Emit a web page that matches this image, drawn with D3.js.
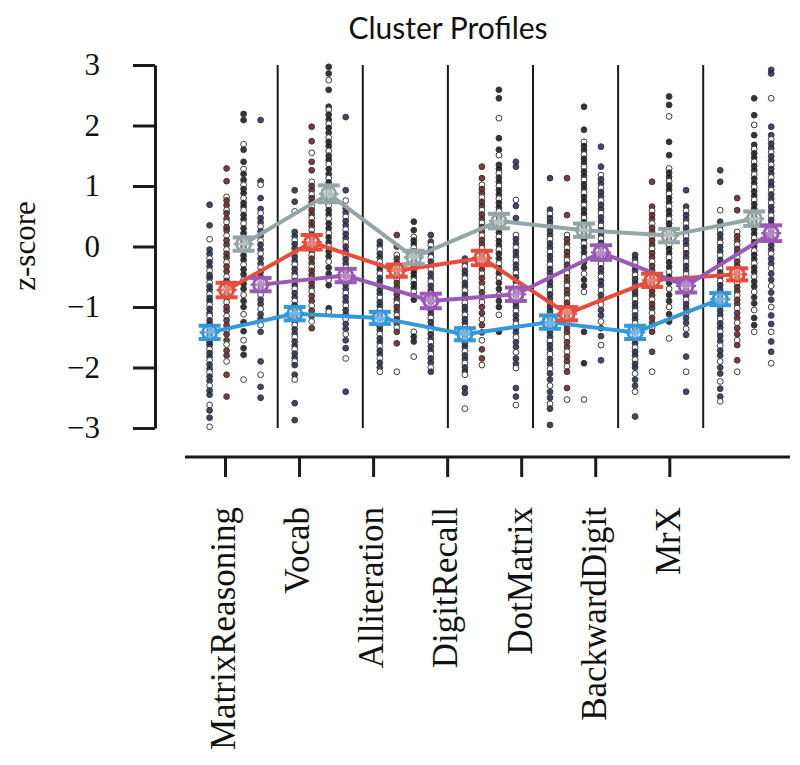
<!DOCTYPE html>
<html><head><meta charset="utf-8">
<script src="https://cdn.jsdelivr.net/npm/d3@7"></script>
<style>body{margin:0;background:#fff}</style>
</head><body><div id="chart"></div>
<script>
const categories = ["MatrixReasoning","Vocab","Alliteration","DigitRecall","DotMatrix","BackwardDigit","MrX"];
const clusters = ["blue","red","grey","purple"];
const yTicks = [-3,-2,-1,0,1,2,3];

const meanBlue   = [-1.42,-1.11,-1.18,-1.45,-1.25,-1.42,-0.87];
const meanRed    = [-0.72, 0.07,-0.40,-0.19,-1.11,-0.56,-0.46];
const meanGrey   = [ 0.04, 0.87,-0.18, 0.42, 0.27, 0.18, 0.46];
const meanPurple = [-0.63,-0.48,-0.90,-0.79,-0.10,-0.65, 0.22];

const semBlue   = [0.11,0.11,0.10,0.10,0.11,0.11,0.10];
const semRed    = [0.12,0.12,0.10,0.12,0.11,0.11,0.10];
const semGrey   = [0.11,0.14,0.11,0.12,0.11,0.11,0.12];
const semPurple = [0.11,0.11,0.12,0.11,0.12,0.11,0.13];

const dotsBlue = [
 [0.69,0.35,0.12,-0.05,-0.12,-0.2,-0.26,-0.33,-0.4,-0.47,-0.52,-0.6,-0.66,-0.72,-0.79,-0.85,-0.9,-0.97,-1.03,-1.1,-1.15,-1.22,-1.28,-1.33,-1.4,-1.46,-1.52,-1.58,-1.63,-1.7,-1.76,-1.82,-1.88,-1.95,-2.02,-2.08,-2.15,-2.22,-2.3,-2.38,-2.45,-2.62,-2.71,-2.83,-2.98],
 [0.93,0.74,0.58,0.24,0.17,0.1,0.04,-0.03,-0.1,-0.17,-0.24,-0.3,-0.37,-0.44,-0.5,-0.57,-0.64,-0.7,-0.77,-0.84,-0.9,-0.97,-1.04,-1.1,-1.17,-1.24,-1.3,-1.37,-1.44,-1.5,-1.57,-1.64,-1.7,-1.77,-1.84,-1.9,-1.96,-2.12,-2.2,-2.59,-2.87],
 [0.08,0.02,-0.05,-0.12,-0.18,-0.25,-0.32,-0.38,-0.45,-0.52,-0.58,-0.65,-0.72,-0.78,-0.85,-0.92,-0.98,-1.05,-1.12,-1.18,-1.25,-1.32,-1.38,-1.45,-1.52,-1.58,-1.65,-1.72,-1.78,-1.85,-1.92,-2.0,-2.07],
 [-0.2,-0.27,-0.33,-0.4,-0.46,-0.53,-0.6,-0.66,-0.73,-0.8,-0.86,-0.93,-1.0,-1.06,-1.13,-1.2,-1.26,-1.33,-1.4,-1.46,-1.53,-1.6,-1.66,-1.73,-1.8,-1.86,-1.93,-2.0,-2.06,-2.12,-2.34,-2.42,-2.68],
 [1.13,0.61,0.54,0.47,0.4,0.33,0.26,0.19,0.12,0.05,-0.02,-0.09,-0.16,-0.23,-0.3,-0.37,-0.44,-0.51,-0.58,-0.65,-0.72,-0.79,-0.86,-0.93,-1.0,-1.07,-1.14,-1.21,-1.28,-1.35,-1.42,-1.49,-1.56,-1.63,-1.7,-1.78,-1.86,-1.94,-2.02,-2.1,-2.2,-2.3,-2.4,-2.5,-2.6,-2.68,-2.95],
 [-0.14,-0.2,-0.27,-0.34,-0.4,-0.47,-0.54,-0.6,-0.67,-0.74,-0.8,-0.87,-0.94,-1.0,-1.07,-1.14,-1.2,-1.27,-1.34,-1.4,-1.47,-1.54,-1.6,-1.67,-1.74,-1.8,-1.87,-1.94,-2.0,-2.1,-2.2,-2.3,-2.4,-2.81],
 [1.26,1.07,0.6,0.41,0.34,0.27,0.2,0.13,0.06,-0.01,-0.08,-0.15,-0.22,-0.29,-0.36,-0.43,-0.5,-0.57,-0.64,-0.71,-0.78,-0.85,-0.92,-0.99,-1.06,-1.13,-1.2,-1.27,-1.34,-1.41,-1.48,-1.56,-1.64,-1.72,-1.8,-1.9,-2.0,-2.1,-2.23,-2.35,-2.48,-2.56]
];
const dotsRed = [
 [1.29,1.08,0.82,0.76,0.68,0.6,0.55,0.46,0.4,0.32,0.27,0.18,0.1,0.03,-0.05,-0.12,-0.18,-0.26,-0.33,-0.41,-0.5,-0.57,-0.63,-0.7,-0.78,-0.85,-0.92,-1.0,-1.06,-1.15,-1.22,-1.3,-1.38,-1.45,-1.55,-1.62,-1.72,-1.8,-1.9,-2.12,-2.48],
 [1.98,1.74,1.55,1.4,1.26,1.07,1.0,0.93,0.86,0.8,0.73,0.66,0.6,0.53,0.47,0.4,0.34,0.27,0.2,0.14,0.07,0.0,-0.07,-0.14,-0.2,-0.27,-0.34,-0.4,-0.47,-0.54,-0.6,-0.67,-0.74,-0.82,-0.9,-0.98,-1.06,-1.15,-1.24,-1.35],
 [0.19,0.0,-0.14,-0.2,-0.27,-0.34,-0.4,-0.47,-0.54,-0.6,-0.67,-0.74,-0.8,-0.87,-0.94,-1.0,-1.07,-1.14,-1.2,-1.27,-1.34,-1.41,-1.6,-2.07],
 [1.32,1.13,1.02,0.95,0.88,0.81,0.74,0.67,0.6,0.53,0.46,0.39,0.32,0.25,0.18,0.11,0.04,-0.03,-0.1,-0.17,-0.24,-0.31,-0.38,-0.45,-0.52,-0.6,-0.68,-0.76,-0.84,-0.92,-1.0,-1.1,-1.2,-1.3,-1.42,-1.55,-1.7,-1.85,-1.96],
 [1.13,0.52,0.19,0.12,0.05,-0.02,-0.09,-0.16,-0.23,-0.3,-0.37,-0.44,-0.51,-0.58,-0.65,-0.72,-0.79,-0.86,-0.93,-1.0,-1.07,-1.14,-1.21,-1.28,-1.35,-1.42,-1.5,-1.58,-1.66,-1.74,-1.82,-1.9,-1.98,-2.07,-2.34,-2.53],
 [1.07,0.66,0.59,0.52,0.45,0.38,0.31,0.24,0.17,0.1,0.03,-0.04,-0.11,-0.18,-0.25,-0.32,-0.39,-0.46,-0.53,-0.6,-0.67,-0.74,-0.81,-0.88,-0.95,-1.02,-1.1,-1.18,-1.26,-1.34,-1.41,-1.74,-2.07],
 [0.8,0.6,0.24,0.17,0.1,0.03,-0.04,-0.11,-0.18,-0.25,-0.32,-0.39,-0.46,-0.53,-0.6,-0.67,-0.74,-0.81,-0.88,-0.95,-1.02,-1.1,-1.18,-1.26,-1.35,-1.45,-1.55,-1.63,-1.88,-2.07]
];
const dotsGrey = [
 [2.19,2.09,1.69,1.6,1.4,1.28,1.2,1.1,1.02,0.95,0.88,0.8,0.72,0.66,0.6,0.52,0.45,0.38,0.3,0.22,0.15,0.08,0.0,-0.08,-0.15,-0.22,-0.3,-0.38,-0.46,-0.55,-0.62,-0.7,-0.8,-0.9,-1.0,-1.12,-1.25,-1.4,-1.55,-1.68,-1.79,-2.2],
 [2.97,2.86,2.75,2.59,2.31,2.26,2.18,2.1,2.03,1.96,1.88,1.8,1.73,1.66,1.58,1.5,1.43,1.36,1.28,1.2,1.13,1.06,0.98,0.9,0.83,0.76,0.68,0.6,0.53,0.46,0.38,0.3,0.22,0.15,0.07,0.0,-0.08,-0.16,-0.25,-0.35,-0.45,-0.55,-0.64,-1.02,-1.08],
 [0.41,0.27,0.16,0.1,0.04,-0.02,-0.08,-0.14,-0.2,-0.26,-0.32,-0.38,-0.44,-0.5,-0.56,-0.62,-0.68,-0.75,-0.82,-0.88,-1.41,-1.49,-1.57,-1.82],
 [2.59,2.45,2.12,1.79,1.6,1.51,1.35,1.28,1.21,1.14,1.07,1.0,0.93,0.86,0.79,0.72,0.65,0.58,0.51,0.44,0.37,0.3,0.23,0.16,0.09,0.02,-0.05,-0.12,-0.2,-0.28,-0.36,-0.44,-0.52,-0.6,-0.7,-0.8,-0.9,-1.0,-1.13,-1.41],
 [2.31,1.93,1.73,1.66,1.59,1.52,1.45,1.38,1.31,1.24,1.17,1.1,1.03,0.96,0.89,0.82,0.75,0.68,0.61,0.54,0.47,0.4,0.33,0.26,0.19,0.12,0.05,-0.02,-0.1,-0.18,-0.26,-0.35,-0.45,-0.55,-0.65,-0.75,-1.41,-1.93,-2.53],
 [2.48,2.34,2.15,1.73,1.51,1.29,1.22,1.15,1.08,1.01,0.94,0.87,0.8,0.73,0.66,0.59,0.52,0.45,0.38,0.31,0.24,0.17,0.1,0.03,-0.04,-0.11,-0.18,-0.26,-0.34,-0.42,-0.5,-0.6,-0.7,-0.8,-0.9,-1.0,-1.12,-1.24,-1.52],
 [2.45,2.17,2.01,1.84,1.68,1.61,1.54,1.47,1.4,1.33,1.26,1.19,1.12,1.05,0.98,0.91,0.84,0.77,0.7,0.63,0.56,0.49,0.42,0.35,0.28,0.21,0.14,0.07,0.0,-0.07,-0.14,-0.21,-0.28,-0.35,-0.42,-0.5,-0.58,-0.66,-0.75,-0.84,-0.94,-1.05,-1.18,-1.3,-1.41]
];
const dotsPurple = [
 [2.09,1.08,1.02,0.8,0.62,0.55,0.47,0.4,0.33,0.25,0.18,0.1,0.03,-0.05,-0.12,-0.2,-0.28,-0.35,-0.42,-0.5,-0.57,-0.65,-0.72,-0.8,-0.88,-0.95,-1.03,-1.12,-1.2,-1.3,-1.41,-1.9,-2.12,-2.32,-2.5],
 [2.14,0.93,0.76,0.63,0.56,0.49,0.42,0.35,0.28,0.21,0.14,0.07,0.0,-0.07,-0.14,-0.21,-0.28,-0.35,-0.42,-0.49,-0.56,-0.63,-0.7,-0.77,-0.84,-0.91,-0.98,-1.05,-1.12,-1.2,-1.28,-1.36,-1.45,-1.55,-1.68,-1.85,-2.4],
 [0.19,0.08,0.02,-0.05,-0.12,-0.18,-0.25,-0.32,-0.38,-0.45,-0.52,-0.58,-0.65,-0.72,-0.78,-0.85,-0.92,-0.98,-1.05,-1.12,-1.18,-1.25,-1.32,-1.38,-1.45,-1.52,-1.58,-1.65,-1.72,-1.78,-1.85,-1.92,-2.0,-2.07],
 [1.4,1.32,0.77,0.67,0.47,0.19,0.12,0.05,-0.02,-0.09,-0.16,-0.23,-0.3,-0.37,-0.44,-0.51,-0.58,-0.65,-0.72,-0.79,-0.86,-0.93,-1.0,-1.07,-1.14,-1.21,-1.28,-1.35,-1.42,-1.5,-1.58,-1.66,-1.75,-1.85,-1.94,-2.01,-2.34,-2.48,-2.62],
 [1.65,1.32,1.18,1.11,1.04,0.97,0.9,0.83,0.76,0.69,0.62,0.55,0.48,0.41,0.34,0.27,0.2,0.13,0.06,-0.01,-0.08,-0.15,-0.22,-0.29,-0.36,-0.43,-0.5,-0.57,-0.64,-0.72,-0.8,-0.88,-0.96,-1.05,-1.14,-1.24,-1.35,-1.48,-1.63,-1.88],
 [0.93,0.66,0.59,0.52,0.45,0.38,0.31,0.24,0.17,0.1,0.03,-0.04,-0.11,-0.18,-0.25,-0.32,-0.39,-0.46,-0.53,-0.6,-0.67,-0.74,-0.81,-0.88,-0.95,-1.02,-1.1,-1.18,-1.26,-1.36,-1.46,-1.82,-2.07,-2.4],
 [2.92,2.86,2.45,1.98,1.84,1.77,1.7,1.63,1.56,1.49,1.42,1.35,1.28,1.21,1.14,1.07,1.0,0.93,0.86,0.79,0.72,0.65,0.58,0.51,0.44,0.37,0.3,0.23,0.16,0.09,0.02,-0.05,-0.12,-0.2,-0.28,-0.36,-0.45,-0.55,-0.65,-0.76,-0.88,-1.0,-1.14,-1.28,-1.41,-1.57,-1.74,-1.93]
];

const lineColors = {blue:"#3498db", red:"#e74c3c", grey:"#95a5a6", purple:"#9b59b6"};
const dotColors  = {blue:"#1a2744", red:"#5e1c1c", grey:"#111111", purple:"#2f1d52"};

const series = [
  {key:"blue", means:meanBlue, sems:semBlue, dots:dotsBlue},
  {key:"red", means:meanRed, sems:semRed, dots:dotsRed},
  {key:"grey", means:meanGrey, sems:semGrey, dots:dotsGrey},
  {key:"purple", means:meanPurple, sems:semPurple, dots:dotsPurple}
];

const W = 800, H = 765;
const svg = d3.select("#chart").append("svg").attr("width", W).attr("height", H);

const y = d3.scaleLinear().domain([-3,3]).range([428,65]);
const xPanel = d3.scaleBand().domain(categories).range([192.6, 788.3]).padding(0);
const xSub = d3.scalePoint().domain(clusters).range([17, 68]);
const xTick = d3.scalePoint().domain(categories).range([225, 669.3]);
const cx = (cat, cl) => xPanel(cat) + xSub(cl);

const serif = "'Liberation Serif', 'Times New Roman', serif";

// title
svg.append("text").attr("x", 448).attr("y", 39).attr("text-anchor","middle")
  .style("font-family","Lato, 'Open Sans', sans-serif").style("font-size","30px").attr("fill","#111")
  .text("Cluster Profiles");

// panel separators
svg.append("g").selectAll("line").data(categories.slice(1)).join("line")
  .attr("x1", d => xPanel(d)).attr("x2", d => xPanel(d))
  .attr("y1", y(3)).attr("y2", y(-3))
  .attr("stroke","#1a1a1a").attr("stroke-width",2);

// dots
const gDots = svg.append("g");
series.forEach(s => {
  categories.forEach((cat, ci) => {
    gDots.selectAll(null).data(s.dots[ci]).join("circle")
      .attr("cx", cx(cat, s.key)).attr("cy", d => y(d)).attr("r", 2.9)
      .attr("fill", (d,i) => i % 3 === 2 ? "#fff" : dotColors[s.key])
      .attr("fill-opacity", (d,i) => i % 3 === 2 ? 1 : 0.85)
      .attr("stroke", "#3a3a3a").attr("stroke-width", 1);
  });
});

// mean lines
const line = d3.line().x(d => d[0]).y(d => d[1]);
series.forEach(s => {
  const pts = categories.map((cat, i) => [cx(cat, s.key), y(s.means[i])]);
  svg.append("path").attr("d", line(pts)).attr("fill","none")
    .attr("stroke", lineColors[s.key]).attr("stroke-width", 4).attr("stroke-linejoin","round");
});

// error bars & markers
series.forEach(s => {
  const g = svg.append("g").attr("stroke", lineColors[s.key]);
  categories.forEach((cat, i) => {
    const x0 = cx(cat, s.key), m = s.means[i], e = s.sems[i];
    g.append("line").attr("x1",x0).attr("x2",x0).attr("y1",y(m+e)).attr("y2",y(m-e)).attr("stroke-width",3);
    g.append("line").attr("x1",x0-11).attr("x2",x0+11).attr("y1",y(m+e)).attr("y2",y(m+e)).attr("stroke-width",4);
    g.append("line").attr("x1",x0-11).attr("x2",x0+11).attr("y1",y(m-e)).attr("y2",y(m-e)).attr("stroke-width",4);
    g.append("line").attr("x1",x0-10).attr("x2",x0+10).attr("y1",y(m)).attr("y2",y(m)).attr("stroke-width",2.5);
    g.append("circle").attr("cx",x0).attr("cy",y(m)).attr("r",7)
      .attr("fill","#fff").attr("fill-opacity",0.3).attr("stroke-width",3);
  });
});

// y axis
const yAxis = d3.axisLeft(y).tickValues(yTicks).tickFormat(d3.format("d"))
  .tickSize(22).tickSizeOuter(0).tickPadding(33);
const gy = svg.append("g").attr("transform","translate(155,0)").call(yAxis);
gy.select(".domain").attr("stroke","#1a1a1a").attr("stroke-width",3);
gy.selectAll(".tick line").attr("stroke","#1a1a1a").attr("stroke-width",3);
gy.selectAll(".tick text").style("font-family",serif).style("font-size","31px").attr("fill","#111");

svg.append("text").attr("transform","translate(24,246) rotate(-90)")
  .attr("text-anchor","middle").attr("dy","0.35em")
  .style("font-family",serif).style("font-size","31px").attr("fill","#111").text("z-score");

// x axis
const xAxis = d3.axisBottom(xTick).tickSize(20).tickSizeOuter(0);
const gx = svg.append("g").attr("transform","translate(0,457)").call(xAxis);
gx.select(".domain").remove();
gx.append("line").attr("x1",185).attr("x2",790).attr("y1",0).attr("y2",0)
  .attr("stroke","#1a1a1a").attr("stroke-width",3);
gx.selectAll(".tick line").attr("stroke","#1a1a1a").attr("stroke-width",3);
gx.selectAll(".tick text")
  .attr("transform","rotate(-90)").attr("x",-50).attr("y",0).attr("dy","0.28em")
  .attr("text-anchor","end")
  .style("font-family",serif).style("font-size","35px").attr("fill","#111");
</script></body></html>
